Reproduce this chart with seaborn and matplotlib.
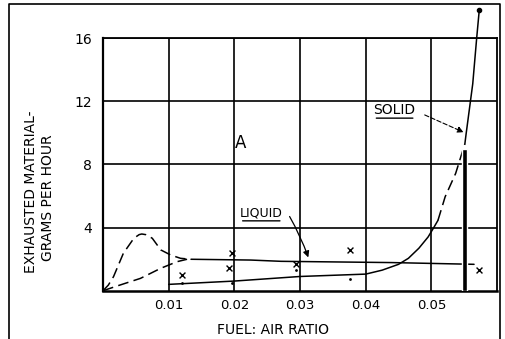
import numpy as np
import pandas as pd
import matplotlib
matplotlib.use("Agg")
import matplotlib.pyplot as plt
from matplotlib.lines import Line2D
import seaborn as sns

# dashed hump near the origin
peak_x = [0.0, 0.0008, 0.0016, 0.0031, 0.0047, 0.0055, 0.0059, 0.0065, 0.0075, 0.0088, 0.0103, 0.0118, 0.0134]
peak_y = [0.0, 0.35, 0.89, 2.37, 3.32, 3.55, 3.59, 3.55, 3.32, 2.58, 2.26, 2.05, 1.99]
# dashed rise from the origin
rise_x = [0.0, 0.0026, 0.0057, 0.0088, 0.0113, 0.0128]
rise_y = [0.0, 0.36, 0.78, 1.42, 1.84, 1.99]
# liquid line
liquid_x = [0.0134, 0.0225, 0.0271, 0.0440, 0.0565]
liquid_y = [1.99, 1.94, 1.86, 1.78, 1.67]
# solid curve, in three pieces (solid / dashed / solid)
low_x = [0.0100, 0.0200, 0.0300, 0.0400, 0.0425, 0.0450, 0.0465, 0.0481, 0.0495, 0.0503, 0.0510]
low_y = [0.40, 0.61, 0.90, 1.05, 1.30, 1.67, 2.05, 2.69, 3.40, 3.95, 4.45]
mid_x = [0.0510, 0.0521, 0.0537, 0.0551]
mid_y = [4.45, 5.95, 7.43, 9.30]
top_x = [0.0551, 0.0553, 0.0563, 0.0569, 0.0573]
top_y = [9.30, 9.96, 13.1, 16.0, 17.8]
# observed points
xmark_x = [0.0121, 0.0196, 0.0192, 0.0294, 0.0376, 0.0572]
xmark_y = [1.00, 2.40, 1.42, 1.67, 2.58, 1.31]
dot_x = [0.0121, 0.0197, 0.0294, 0.0376]
dot_y = [0.47, 0.51, 1.31, 0.72]
# solid deposit bar
bar_x = [0.0550]
bar_h = [9.0]

x_ticks = [0.01, 0.02, 0.03, 0.04, 0.05]
x_labels = ["0.01", "0.02", "0.03", "0.04", "0.05"]
y_ticks = [4, 8, 12, 16]
y_labels = ["4", "8", "12", "16"]

sns.set_theme(style="whitegrid")
plt.rcParams['font.family'] = ['DejaVu Sans']

fig = plt.figure(figsize=(5.06, 3.39), dpi=100)
ax = fig.add_axes([0.2036, 0.1425, 0.7787, 0.7454])
ax.set_facecolor("white")

ax.set_xlim(0, 0.06)
ax.set_ylim(0, 16)
ax.set_xticks(x_ticks)
ax.set_xticklabels(x_labels, fontsize=9.5, color="black")
ax.set_yticks(y_ticks)
ax.set_yticklabels(y_labels, fontsize=10, color="black")
ax.tick_params(axis="x", length=0, pad=6)
ax.tick_params(axis="y", length=0, pad=8)
ax.grid(True, color="black", linewidth=1.2)
for s in ax.spines.values():
    s.set_visible(True)
    s.set_color("black")
    s.set_linewidth(1.3)
ax.spines["bottom"].set_linewidth(1.8)
ax.spines["left"].set_linewidth(1.6)

curves = [(peak_x, peak_y, True), (rise_x, rise_y, True), (liquid_x, liquid_y, False),
          (low_x, low_y, False), (mid_x, mid_y, True), (top_x, top_y, False)]
for cx, cy, dashed in curves:
    n0 = len(ax.get_lines())
    sns.lineplot(x=cx, y=cy, ax=ax, color="black", lw=1.1, sort=False, estimator=None)
    ln = ax.get_lines()[n0]
    ln.set_clip_on(False)
    if dashed:
        ln.set_linestyle((0, (7, 3.5)))

ax.bar(bar_x, bar_h, width=0.0007, color="black", zorder=4)

sns.scatterplot(x=xmark_x, y=xmark_y, ax=ax, marker="x", s=18, color="black", linewidth=1.0, zorder=5)
sns.scatterplot(x=dot_x, y=dot_y, ax=ax, marker="o", s=4, color="black", linewidth=0, zorder=5)
ax.scatter([top_x[-1]], [top_y[-1]], s=9, color="black", clip_on=False, zorder=5)


def underlined(x, y, s, size):
    t = ax.text(x, y, s, fontsize=size, ha="center", va="center", color="black")
    ax.annotate("", xy=(0, -0.08), xycoords=t, xytext=(1, -0.08), textcoords=t,
                arrowprops=dict(arrowstyle="-", color="black", lw=1.0))
    return t


ax.text(0.0210, 9.33, "A", fontsize=12, ha="center", va="center", color="black")
underlined(0.0241, 4.9, "LIQUID", 9)
ax.annotate("", xy=(0.0314, 1.94), xytext=(0.0282, 4.85),
            arrowprops=dict(arrowstyle="-|>", color="black", lw=0.9,
                            connectionstyle="arc3,rad=-0.05", mutation_scale=9))
underlined(0.0444, 11.44, "SOLID", 10)
ax.annotate("", xy=(0.0553, 9.96), xytext=(0.0486, 11.2),
            arrowprops=dict(arrowstyle="-|>", color="black", lw=0.8, linestyle=(0, (4, 2)),
                            mutation_scale=9))

fig.text(31 / 506, 1 - 192 / 339, "EXHAUSTED MATERIAL-", rotation=90, fontsize=10,
         ha="center", va="center", color="black")
fig.text(48 / 506, 1 - 198 / 339, "GRAMS PER HOUR", rotation=90, fontsize=10,
         ha="center", va="center", color="black")
fig.text(273 / 506, 1 - 330 / 339, "FUEL: AIR RATIO", fontsize=10,
         ha="center", va="center", color="black")

# frame around the drawing (open at the bottom)
fx = [9 / 506, 9 / 506, 500.5 / 506, 500.5 / 506]
fy = [0.0, 1 - 4 / 339, 1 - 4 / 339, 0.0]
fig.add_artist(Line2D(fx, fy, transform=fig.transFigure, color="black", lw=1.2))

fig.savefig("out.png", dpi=100, facecolor="white")
